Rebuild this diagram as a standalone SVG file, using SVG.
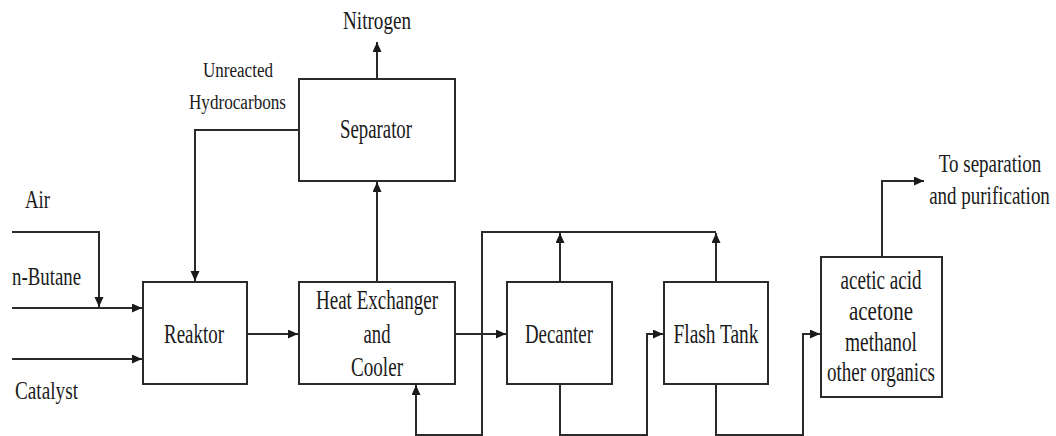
<svg xmlns="http://www.w3.org/2000/svg" width="1056" height="436" viewBox="0 0 1056 436">
<style>
.box{fill:#fff;stroke:#2a2a2a;stroke-width:2}
.ln{fill:none;stroke:#2a2a2a;stroke-width:2;marker-end:url(#ah)}
text{font-family:"Liberation Serif","Times New Roman",serif;fill:#1a1a1a;text-anchor:middle}
.t{font-size:27px}
.s{font-size:25px}
.xs{font-size:20px}
</style>
<defs>
<marker id="ah" markerUnits="userSpaceOnUse" markerWidth="11" markerHeight="10" refX="10" refY="4.5" orient="auto">
<path d="M0,0 L10,4.5 L0,9 z" fill="#1a1a1a"/>
</marker>
</defs>
<rect width="1056" height="436" fill="#fff"/>
<g id="connectors">
<path class="ln" d="M377 79 V42"/>
<path class="ln" d="M377 282 V182"/>
<path class="ln" d="M299 130 H195 V281"/>
<path class="ln" d="M12 232 H99 V307"/>
<path class="ln" d="M12 308 H142"/>
<path class="ln" d="M12 359 H142"/>
<path class="ln" d="M247 334 H298"/>
<path class="ln" d="M455 334 H506"/>
<path class="ln" d="M560 282 V233"/>
<path class="ln" d="M716 282 V233"/>
<path class="ln" d="M716 232 H482 V435 H416 V385"/>
<path class="ln" d="M560 384 V435 H647 V334 H663"/>
<path class="ln" d="M716 384 V435 H803 V334 H820"/>
<path class="ln" d="M882 257 V181 H924"/>
</g>
<g id="separator">
<rect class="box" x="299" y="79" width="156" height="102"/>
<text class="t" x="376" y="138" textLength="72" lengthAdjust="spacingAndGlyphs">Separator</text>
</g>
<g id="reaktor">
<rect class="box" x="143" y="282" width="104" height="102"/>
<text class="t" x="194" y="343" textLength="60" lengthAdjust="spacingAndGlyphs">Reaktor</text>
</g>
<g id="heat-exchanger">
<rect class="box" x="299" y="282" width="156" height="102"/>
<text class="t" x="377" y="309" textLength="122" lengthAdjust="spacingAndGlyphs">Heat Exchanger</text>
<text class="t" x="377" y="343" textLength="27" lengthAdjust="spacingAndGlyphs">and</text>
<text class="t" x="377" y="376" textLength="52" lengthAdjust="spacingAndGlyphs">Cooler</text>
</g>
<g id="decanter">
<rect class="box" x="507" y="282" width="105" height="102"/>
<text class="t" x="559" y="343" textLength="68" lengthAdjust="spacingAndGlyphs">Decanter</text>
</g>
<g id="flash-tank">
<rect class="box" x="664" y="282" width="104" height="102"/>
<text class="t" x="716" y="343" textLength="85" lengthAdjust="spacingAndGlyphs">Flash Tank</text>
</g>
<g id="products">
<rect class="box" x="821" y="257" width="121" height="140"/>
<text class="t" x="881" y="289" textLength="81" lengthAdjust="spacingAndGlyphs">acetic acid</text>
<text class="t" x="881" y="320" textLength="64" lengthAdjust="spacingAndGlyphs">acetone</text>
<text class="t" x="881" y="351" textLength="72" lengthAdjust="spacingAndGlyphs">methanol</text>
<text class="t" x="881" y="381" textLength="108" lengthAdjust="spacingAndGlyphs">other organics</text>
</g>
<g id="labels">
<text class="s" x="377" y="29" textLength="68" lengthAdjust="spacingAndGlyphs">Nitrogen</text>
<text class="xs" x="238" y="77" textLength="70" lengthAdjust="spacingAndGlyphs">Unreacted</text>
<text class="xs" x="237.5" y="109" textLength="97" lengthAdjust="spacingAndGlyphs">Hydrocarbons</text>
<text class="s" x="37.5" y="208" textLength="25" lengthAdjust="spacingAndGlyphs">Air</text>
<text class="s" x="46.5" y="285" textLength="69" lengthAdjust="spacingAndGlyphs">n-Butane</text>
<text class="s" x="46.5" y="399" textLength="63" lengthAdjust="spacingAndGlyphs">Catalyst</text>
<text class="s" transform="translate(990 172) scale(0.76 1)" x="0" y="0">To separation</text>
<text class="s" transform="translate(989.5 204) scale(0.76 1)" x="0" y="0">and purification</text>
</g>
</svg>
